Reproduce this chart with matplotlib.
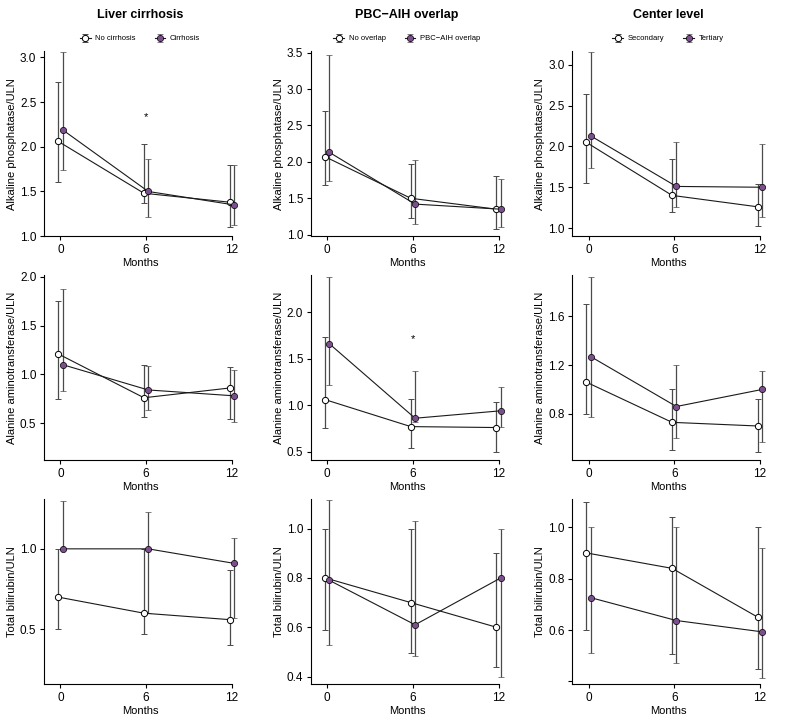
import numpy as np
import matplotlib
matplotlib.use("Agg")
import matplotlib.pyplot as plt

plt.rcParams["font.family"] = ["Liberation Sans", "DejaVu Sans"]

months = [0, 6, 12]

col_titles = ["Liver cirrhosis", "PBC\u2212AIH overlap", "Center level"]
group_names = [
    ("No cirrhosis", "Cirrhosis"),
    ("No overlap", "PBC\u2212AIH overlap"),
    ("Secondary", "Tertiary"),
]
row_labels = ["Alkaline phosphatase/ULN", "Alanine aminotransferase/ULN", "Total bilirubin/ULN"]

# medians and IQR (low, high)
# row 1: ALP
alp_cirr_a = [2.06, 1.48, 1.38]
alp_cirr_a_lo = [1.61, 1.37, 1.10]
alp_cirr_a_hi = [2.73, 2.03, 1.80]
alp_cirr_b = [2.19, 1.50, 1.35]
alp_cirr_b_lo = [1.74, 1.21, 1.12]
alp_cirr_b_hi = [3.06, 1.86, 1.80]

alp_ovl_a = [2.07, 1.50, 1.35]
alp_ovl_a_lo = [1.68, 1.23, 1.08]
alp_ovl_a_hi = [2.70, 1.97, 1.80]
alp_ovl_b = [2.13, 1.42, 1.35]
alp_ovl_b_lo = [1.74, 1.15, 1.10]
alp_ovl_b_hi = [3.47, 2.03, 1.76]

alp_ctr_a = [2.05, 1.40, 1.26]
alp_ctr_a_lo = [1.55, 1.20, 1.02]
alp_ctr_a_hi = [2.65, 1.85, 1.54]
alp_ctr_b = [2.13, 1.51, 1.50]
alp_ctr_b_lo = [1.74, 1.26, 1.13]
alp_ctr_b_hi = [3.16, 2.05, 2.03]

# row 2: ALT
alt_cirr_a = [1.21, 0.76, 0.86]
alt_cirr_a_lo = [0.75, 0.56, 0.54]
alt_cirr_a_hi = [1.75, 1.10, 1.08]
alt_cirr_b = [1.10, 0.84, 0.78]
alt_cirr_b_lo = [0.83, 0.63, 0.51]
alt_cirr_b_hi = [1.88, 1.09, 1.04]

alt_ovl_a = [1.06, 0.77, 0.76]
alt_ovl_a_lo = [0.75, 0.54, 0.50]
alt_ovl_a_hi = [1.73, 1.07, 1.03]
alt_ovl_b = [1.66, 0.86, 0.94]
alt_ovl_b_lo = [1.22, 0.82, 0.77]
alt_ovl_b_hi = [2.38, 1.37, 1.20]

alt_ctr_a = [1.06, 0.73, 0.70]
alt_ctr_a_lo = [0.80, 0.50, 0.49]
alt_ctr_a_hi = [1.70, 1.00, 0.92]
alt_ctr_b = [1.27, 0.86, 1.00]
alt_ctr_b_lo = [0.77, 0.60, 0.57]
alt_ctr_b_hi = [1.92, 1.20, 1.15]

# row 3: bilirubin
bil_cirr_a = [0.70, 0.60, 0.56]
bil_cirr_a_lo = [0.50, 0.47, 0.40]
bil_cirr_a_hi = [1.00, 1.00, 0.87]
bil_cirr_b = [1.00, 1.00, 0.91]
bil_cirr_b_lo = [1.00, 0.60, 0.57]
bil_cirr_b_hi = [1.30, 1.23, 1.07]

bil_ovl_a = [0.80, 0.70, 0.60]
bil_ovl_a_lo = [0.59, 0.495, 0.44]
bil_ovl_a_hi = [1.00, 1.00, 0.90]
bil_ovl_b = [0.79, 0.61, 0.80]
bil_ovl_b_lo = [0.53, 0.485, 0.40]
bil_ovl_b_hi = [1.115, 1.03, 1.00]

bil_ctr_a = [0.90, 0.84, 0.65]
bil_ctr_a_lo = [0.60, 0.505, 0.447]
bil_ctr_a_hi = [1.10, 1.04, 1.00]
bil_ctr_b = [0.726, 0.637, 0.593]
bil_ctr_b_lo = [0.51, 0.47, 0.415]
bil_ctr_b_hi = [1.00, 1.00, 0.92]

panels = [
    [(alp_cirr_a, alp_cirr_a_lo, alp_cirr_a_hi, alp_cirr_b, alp_cirr_b_lo, alp_cirr_b_hi),
     (alp_ovl_a, alp_ovl_a_lo, alp_ovl_a_hi, alp_ovl_b, alp_ovl_b_lo, alp_ovl_b_hi),
     (alp_ctr_a, alp_ctr_a_lo, alp_ctr_a_hi, alp_ctr_b, alp_ctr_b_lo, alp_ctr_b_hi)],
    [(alt_cirr_a, alt_cirr_a_lo, alt_cirr_a_hi, alt_cirr_b, alt_cirr_b_lo, alt_cirr_b_hi),
     (alt_ovl_a, alt_ovl_a_lo, alt_ovl_a_hi, alt_ovl_b, alt_ovl_b_lo, alt_ovl_b_hi),
     (alt_ctr_a, alt_ctr_a_lo, alt_ctr_a_hi, alt_ctr_b, alt_ctr_b_lo, alt_ctr_b_hi)],
    [(bil_cirr_a, bil_cirr_a_lo, bil_cirr_a_hi, bil_cirr_b, bil_cirr_b_lo, bil_cirr_b_hi),
     (bil_ovl_a, bil_ovl_a_lo, bil_ovl_a_hi, bil_ovl_b, bil_ovl_b_lo, bil_ovl_b_hi),
     (bil_ctr_a, bil_ctr_a_lo, bil_ctr_a_hi, bil_ctr_b, bil_ctr_b_lo, bil_ctr_b_hi)],
]

ylims = [
    [(1.0, 3.07), (0.98, 3.52), (0.9, 3.17)],
    [(0.12, 2.02), (0.41, 2.40), (0.42, 1.94)],
    [(0.16, 1.31), (0.37, 1.12), (0.39, 1.11)],
]
yticks = [
    [[1.0, 1.5, 2.0, 2.5, 3.0], [1.0, 1.5, 2.0, 2.5, 3.0, 3.5], [1.0, 1.5, 2.0, 2.5, 3.0]],
    [[0.5, 1.0, 1.5, 2.0], [0.5, 1.0, 1.5, 2.0], [0.8, 1.2, 1.6]],
    [[0.5, 1.0], [0.4, 0.6, 0.8, 1.0], [0.4, 0.6, 0.8, 1.0]],
]
# significance stars: (row, col, month, y)
stars = [(0, 0, 6, 2.33), (1, 1, 6, 1.71)]

purple = "#7b4f8e"
bar_col = "#4a4a4a"
dodge = 0.15

fig = plt.figure(figsize=(7.87, 7.2), dpi=100)
lefts = [0.0559, 0.395, 0.727]
bottoms = [0.672, 0.361, 0.050]
w, h = 0.244, 0.257

x = np.array(months, dtype=float)
for r in range(3):
    for c in range(3):
        ax = fig.add_axes([lefts[c], bottoms[r], w, h])
        a, alo, ahi, b, blo, bhi = panels[r][c]
        a, alo, ahi = np.array(a), np.array(alo), np.array(ahi)
        b, blo, bhi = np.array(b), np.array(blo), np.array(bhi)
        ea = ax.errorbar(x - dodge, a, yerr=[a - alo, ahi - a], fmt="-o", color="#1a1a1a",
                         ecolor=bar_col, elinewidth=0.9, capsize=2.2, capthick=0.9, lw=0.8,
                         mfc="white", mec="black", mew=0.7, ms=4.5, clip_on=False, zorder=3,
                         label=group_names[c][0])
        eb = ax.errorbar(x + dodge, b, yerr=[b - blo, bhi - b], fmt="-o", color="#1a1a1a",
                         ecolor=bar_col, elinewidth=0.9, capsize=2.2, capthick=0.9, lw=0.8,
                         mfc=purple, mec="black", mew=0.5, ms=4.5, clip_on=False, zorder=3,
                         label=group_names[c][1])
        ax.set_xlim(-1.15, 12.3)
        ax.set_ylim(*ylims[r][c])
        ax.set_xticks(months)
        ax.set_yticks(yticks[r][c])
        labs = [f"{t:.1f}" for t in yticks[r][c]]
        if r == 2 and c == 2:
            labs[0] = ""
        ax.set_yticklabels(labs)
        ax.spines["top"].set_visible(False)
        ax.spines["right"].set_visible(False)
        ax.spines["bottom"].set_bounds(-1.15, 12)
        for s in ("left", "bottom"):
            ax.spines[s].set_linewidth(0.8)
        ax.tick_params(labelsize=8.5, length=3, width=0.8, pad=2.5)
        ax.set_xlabel("Months", fontsize=8, labelpad=1.5)
        ax.set_ylabel(row_labels[r], fontsize=8, labelpad=2)
        for (sr, sc, sm, sy) in stars:
            if sr == r and sc == c:
                ax.text(sm, sy, "*", ha="center", va="center", fontsize=8)
        if r == 0:
            ax.set_title(col_titles[c], fontsize=9, fontweight="bold", pad=24)
            ax.legend(handles=[ea, eb], loc="lower center", bbox_to_anchor=(0.5, 1.01),
                      ncol=2, frameon=False, fontsize=5.5, handlelength=1.4,
                      columnspacing=2.5, handletextpad=0.6)

fig.savefig("out.png", dpi=100)
